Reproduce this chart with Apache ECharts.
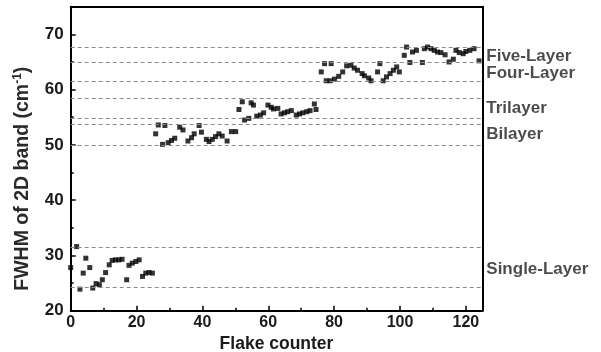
<!DOCTYPE html>
<html><head><meta charset="utf-8">
<script src="https://cdn.jsdelivr.net/npm/echarts@6/dist/echarts.min.js"></script>
<style>html,body{margin:0;padding:0;background:#fff}#c{width:601px;height:352px}</style>
</head><body><div id="c"></div>
<script>
const singleX = [0, 1.8, 2.8, 3.8, 4.6, 5.8, 6.7, 7.7, 8.7, 9.6, 10.6, 11.7, 12.6, 13.6, 14.6, 15.6, 17, 17.7, 18.7, 19.8, 20.8, 21.8, 22.8, 23.8, 24.8];
const singleY = [27.8, 31.6, 23.9, 26.8, 29.5, 27.8, 24.1, 24.9, 24.7, 25.6, 26.9, 28.3, 29.1, 29.2, 29.2, 29.3, 25.6, 28.2, 28.6, 28.9, 29.2, 26.2, 26.8, 26.9, 26.8];
const biX = [25.8, 26.6, 27.9, 28.6, 29.6, 30.6, 31.6, 33.1, 34.1, 35.6, 36.7, 37.5, 39, 39.7, 41.2, 42, 43, 44, 45, 46, 47.5, 48.8, 50.1];
const biY = [52.0, 53.6, 50.1, 53.5, 50.4, 50.8, 51.2, 53.2, 52.7, 50.7, 51.3, 52.0, 53.5, 52.3, 51.0, 50.6, 51.0, 51.5, 52.0, 51.6, 50.7, 52.4, 52.4];
const triX = [51.1, 52.1, 52.8, 54.1, 54.8, 55.5, 56.5, 57.6, 58.6, 59.9, 60.9, 61.6, 62.9, 63.9, 64.9, 65.9, 67, 68.5, 69.5, 70.5, 71.7, 72.7, 74, 74.5];
const triY = [56.4, 57.8, 54.5, 54.8, 57.6, 57.2, 55.2, 55.4, 55.8, 57.2, 56.8, 56.5, 56.6, 55.6, 55.8, 56.0, 56.2, 55.4, 55.6, 55.8, 56.0, 56.2, 57.4, 56.4];
const fewX = [76.1, 77.1, 77.6, 78.8, 79.1, 80.1, 81.4, 82.6, 83.8, 85.1, 86.1, 87.1, 88.5, 89.2, 90.5, 91.2, 93.2, 93.9, 94.9, 95.9, 97, 98, 99, 99.8, 101.3, 102, 103, 103.8, 105, 106.8, 107.4, 108.4, 109.4, 110.4, 111.4, 112.4, 113.7, 114.9, 116.2, 117, 118, 119.2, 120, 121.2, 122.5, 124];
const fewY = [63.2, 64.7, 61.6, 61.6, 64.7, 61.9, 62.4, 63.2, 64.3, 64.4, 63.9, 63.5, 62.9, 62.5, 62.1, 61.6, 63.2, 64.7, 61.6, 62.3, 62.9, 63.5, 64.1, 63.2, 66.2, 67.7, 64.9, 66.8, 67.1, 64.9, 67.4, 67.7, 67.4, 67.1, 66.8, 66.7, 66.3, 65.0, 65.5, 67.1, 66.7, 66.5, 66.9, 67.1, 67.4, 65.2];
const refLines = [67.6, 65.0, 61.5, 58.4, 54.8, 53.8, 50.0, 31.5, 24.2];
const layerNames = ['Five-Layer', 'Four-Layer', 'Trilayer', 'Bilayer', 'Single-Layer'];
const layerLabelY = [66.1, 62.9, 56.6, 52.0, 27.4];
const xTicks = [0, 20, 40, 60, 80, 100, 120];
const yTicks = [20, 30, 40, 50, 60, 70];

const zip = (a, b) => a.map((v, i) => [v, b[i]]);
const pts = [].concat(zip(singleX, singleY), zip(biX, biY), zip(triX, triY), zip(fewX, fewY));
const font = 'Liberation Sans, Arial, sans-serif';
const txt = '#1a1a1a';

const chart = echarts.init(document.getElementById('c'));
chart.setOption({
  animation: false,
  grid: { left: 70.7, right: 118.7, top: 6.7, bottom: 41.3, containLabel: false, outerBoundsMode: 'none' },
  xAxis: [{
    type: 'value', min: 0, max: 125, interval: 20,
    axisLine: { lineStyle: { color: '#000', width: 2 } },
    axisTick: { inside: true, length: 5, lineStyle: { color: '#000', width: 1.5 } },
    minorTick: { show: true, splitNumber: 2, length: 3, lineStyle: { color: '#000', width: 1.5 } },
    splitLine: { show: false },
    axisLabel: { showMaxLabel: false, margin: 4, color: txt, fontFamily: font, fontWeight: 'bold', fontSize: 16,
      formatter: v => xTicks.includes(v) ? String(v) : '' },
    name: 'Flake counter', nameLocation: 'middle', nameGap: 22,
    nameTextStyle: { color: txt, fontFamily: font, fontWeight: 'bold', fontSize: 17.5 }
  }, {
    type: 'value', position: 'top', min: 0, max: 125,
    axisLine: { show: true, onZero: false, lineStyle: { color: '#000', width: 2 } },
    axisTick: { show: false }, axisLabel: { show: false }, splitLine: { show: false }
  }],
  yAxis: [{
    type: 'value', min: 20, max: 75, interval: 10,
    axisLine: { show: true, lineStyle: { color: '#000', width: 2 } },
    axisTick: { show: true, inside: true, length: 5, lineStyle: { color: '#000', width: 1.5 } },
    minorTick: { show: true, splitNumber: 2, length: 3, lineStyle: { color: '#000', width: 1.5 } },
    splitLine: { show: false },
    axisLabel: { showMaxLabel: false, margin: 7, color: txt, fontFamily: font, fontWeight: 'bold', fontSize: 17,
      formatter: v => yTicks.includes(v) ? String(v) : '' },
    name: 'FWHM of 2D band (cm{sup|-1})', nameLocation: 'middle', nameGap: 37,
    nameTextStyle: { color: '#2a2a2a', fontFamily: font, fontWeight: 'bold', fontSize: 19.5, padding: [0, 40, 0, 0],
      rich: { sup: { fontSize: 12, fontWeight: 'bold', fontFamily: font, color: '#2a2a2a', verticalAlign: 'top', padding: [0, 0, 10, 0] } } }
  }, {
    type: 'value', position: 'right', min: 20, max: 75,
    axisLine: { show: true, onZero: false, lineStyle: { color: '#000', width: 2 } },
    axisTick: { show: false }, axisLabel: { show: false }, splitLine: { show: false }
  }],
  series: [{
    type: 'scatter', symbol: 'rect', symbolSize: 5,
    itemStyle: { color: '#000' },
    data: pts,
    markLine: {
      silent: true, symbol: 'none', label: { show: false },
      lineStyle: { color: '#8a8a8a', type: [4, 3], width: 1 },
      data: refLines.map(v => ({ yAxis: v }))
    }
  }, {
    type: 'scatter', symbolSize: 0, clip: false, silent: true,
    data: layerLabelY.map((v, i) => ({ value: [125, v], name: layerNames[i] })),
    label: { show: true, position: 'right', distance: 4, formatter: p => p.name,
      color: '#1e1e1e', fontFamily: font, fontWeight: 'bold', fontSize: 17 }
  }]
});
</script></body></html>
